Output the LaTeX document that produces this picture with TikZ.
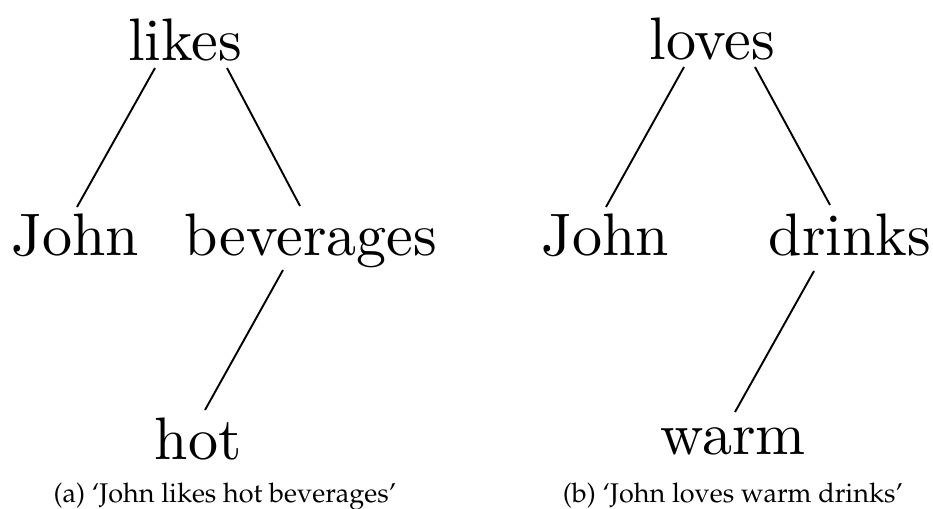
\documentclass[tikz,border=0pt]{standalone}
\usepackage[T1,TU]{fontenc}
\usepackage{fontspec}
\newfontfamily\treefont{lmroman10-regular}[Extension=.otf]
\begin{document}
\begin{tikzpicture}[x=1pt,y=-1pt,
  word/.style={anchor=base,inner sep=0pt,font=\treefont\fontsize{60}{72}\selectfont},
  capt/.style={anchor=base,inner sep=0pt,font=\fontencoding{T1}\fontfamily{ppl}\fontsize{27}{32}\selectfont},
  branch/.style={line width=1.9pt}]
\useasboundingbox (0,0) rectangle (933,508);

% tree (a)
\node[word] (likes) at (185,61) {likes};
\node[word] (johnA) at (75,255) {John};
\node[word] (bev) at (311,255) {beverages};
\node[word] (hot) at (198,459) {hot};
\draw[branch] ([shift={(-30,7)}]likes.base) -- ([shift={(2,-48)}]johnA.base);
\draw[branch] ([shift={(42,7)}]likes.base) -- ([shift={(-11,-49)}]bev.base);
\draw[branch] ([shift={(-28,15)}]bev.base) -- ([shift={(7,-49)}]hot.base);
\node[capt] (capA) at (225,502) {(a) `John likes hot beverages'};

% tree (b)
\node[word] (loves) at (712,60) {loves};
\node[word] (johnB) at (605,255) {John};
\node[word] (drinks) at (850,255) {drinks};
\node[word] (warm) at (733,454) {warm};
\draw[branch] ([shift={(-28,7)}]loves.base) -- ([shift={(1,-48)}]johnB.base);
\draw[branch] ([shift={(43,7)}]loves.base) -- ([shift={(-20,-50)}]drinks.base);
\draw[branch] ([shift={(-36,16)}]drinks.base) -- ([shift={(2,-42)}]warm.base);
\node[capt] (capB) at (733,502) {(b) `John loves warm drinks'};
\end{tikzpicture}
\end{document}
